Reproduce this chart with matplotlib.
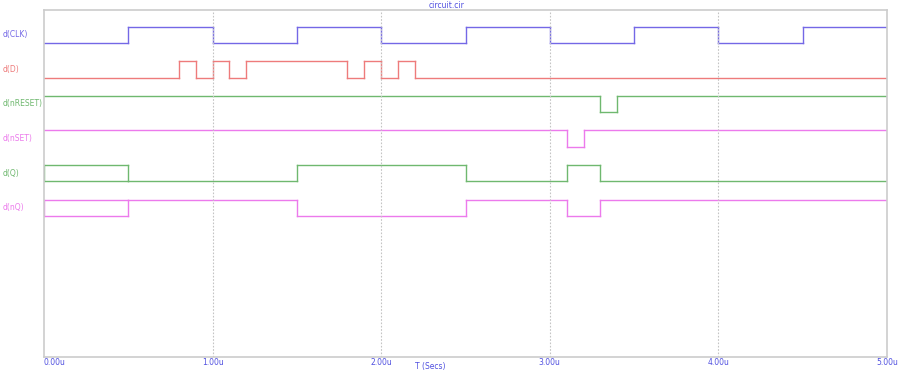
import numpy as np
import matplotlib
matplotlib.use('Agg')
import matplotlib.pyplot as plt

# signal names and colours
names = ['d(CLK)', 'd(D)', 'd(nRESET)', 'd(nSET)', 'd(Q)', 'd(nQ)']
colors = ['#7468e6', '#ee7b7b', '#6fb86f', '#ec7aec', '#6fb86f', '#ec7aec']

# transition times (us) and logic level after each transition, None = unknown (X)
clk_t = [0.0, 0.5, 1.0, 1.5, 2.0, 2.5, 3.0, 3.5, 4.0, 4.5]
clk_v = [0, 1, 0, 1, 0, 1, 0, 1, 0, 1]
d_t = [0.0, 0.8, 0.9, 1.0, 1.1, 1.2, 1.8, 1.9, 2.0, 2.1, 2.2]
d_v = [0, 1, 0, 1, 0, 1, 0, 1, 0, 1, 0]
nreset_t = [0.0, 3.3, 3.4]
nreset_v = [1, 0, 1]
nset_t = [0.0, 3.1, 3.2]
nset_v = [1, 0, 1]
q_t = [0.0, 0.5, 1.5, 2.5, 3.1, 3.3]
q_v = [None, 0, 1, 0, 1, 0]
nq_t = [0.0, 0.5, 1.5, 2.5, 3.1, 3.3]
nq_v = [None, 1, 0, 1, 0, 1]

signals = [(clk_t, clk_v), (d_t, d_v), (nreset_t, nreset_v),
           (nset_t, nset_v), (q_t, q_v), (nq_t, nq_v)]

t_end = 5.0
ticks = [0, 1, 2, 3, 4, 5]
tick_labels = ['0.00u', '1.00u', '2.00u', '3.00u', '4.00u', '5.00u']

fig = plt.figure(figsize=(9, 3.7), dpi=100)
ax = fig.add_axes([44 / 900, 1 - 357 / 370, 843 / 900, 347 / 370])

# lanes in pixel-like units (top = 10, bottom = 357)
lane0 = 43
lane_gap = 34.6
amp = 16.5

for i, ((ts, vs), name, c) in enumerate(zip(signals, names, colors)):
    low = lane0 + lane_gap * i
    high = low - amp
    edges = list(ts) + [t_end]
    for k in range(len(ts)):
        t0, t1 = edges[k], edges[k + 1]
        v = vs[k]
        if v is None:
            ax.plot([t0, t1], [high, high], color=c, lw=1)
            ax.plot([t0, t1], [low, low], color=c, lw=1)
            ax.plot([t0, t0], [low, high], color=c, lw=1)
        else:
            y = high if v else low
            ax.plot([t0, t1], [y, y], color=c, lw=1)
        if k + 1 < len(ts):
            ax.plot([t1, t1], [low, high], color=c, lw=1)
    fig.text(3 / 900, 1 - (low - amp / 2) / 370, name, color=c, fontsize=5.5,
             va='center', ha='left')

ax.set_xlim(0, t_end)
ax.set_ylim(357, 10)
ax.set_yticks([])
ax.set_xticks(ticks)
ax.set_xticklabels(tick_labels)
for lab, t in zip(ax.get_xticklabels(), ticks):
    lab.set_color('#5050e0')
    lab.set_fontsize(5.5)
    if t == 0:
        lab.set_horizontalalignment('left')
ax.tick_params(axis='x', length=0, pad=1)
for x in ticks[1:-1]:
    ax.axvline(x, color='#c4c4c4', lw=0.8, ls=(0, (1.5, 1.5)))
for s in ax.spines.values():
    s.set_color('#cccccc')
    s.set_linewidth(1.2)

fig.text(447 / 900, 1 - 5 / 370, 'circuit.cir', color='#5050e0', fontsize=5.5,
         ha='center', va='center')
fig.text(430 / 900, 1 - 367 / 370, 'T (Secs)', color='#5050e0', fontsize=5.5,
         ha='center', va='center')

fig.savefig('out.png', dpi=100, facecolor='white')
